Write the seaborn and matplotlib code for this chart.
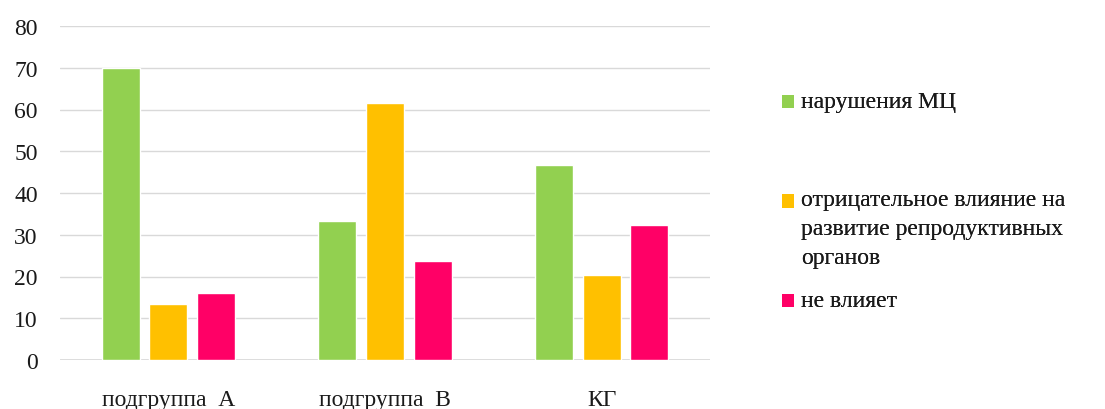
import matplotlib
matplotlib.use("Agg")
import matplotlib.pyplot as plt
from matplotlib.patches import Patch, Rectangle
from matplotlib.legend_handler import HandlerPatch
import seaborn as sns
import pandas as pd

groups = ["подгруппа  А", "подгруппа  В", "КГ"]
series = ["нарушения МЦ",
          "отрицательное влияние на\nразвитие репродуктивных\nорганов",
          "не влияет"]
disorders = [70.0, 33.3, 46.7]
negative = [13.3, 61.5, 20.4]
no_effect = [16.1, 23.6, 32.4]
y_ticks = [0, 10, 20, 30, 40, 50, 60, 70, 80]
colors = ["#92D050", "#FFC000", "#FF0066"]

df = pd.DataFrame({
    "group": groups * 3,
    "series": [series[0]] * 3 + [series[1]] * 3 + [series[2]] * 3,
    "value": disorders + negative + no_effect,
})

sns.set_theme(style="white")
plt.rcParams["font.family"] = ["Liberation Serif", "DejaVu Serif"]

FS = 17
LINESPACING = 1.5
TEXT_COLOR = "#1a1a1a"

fig = plt.figure(figsize=(11.05, 4.10), dpi=100)
ax = fig.add_axes([60 / 1105, 1 - 361 / 410, 650 / 1105, 334 / 410])

sns.barplot(data=df, x="group", y="value", hue="series", order=groups,
            hue_order=series, palette=colors, width=0.66, gap=0.2,
            saturation=1, legend=False, ax=ax)

ax.set_xlim(-0.5, 2.5)
ax.set_ylim(0, 80)
ax.set_yticks(y_ticks)
ax.yaxis.grid(True, color="#D9D9D9", linewidth=1)
ax.set_axisbelow(True)
for side in ["top", "right", "left", "bottom"]:
    ax.spines[side].set_visible(False)
ax.axhline(0, color="#D9D9D9", linewidth=1.2, zorder=0)
ax.set_xlabel("")
ax.set_ylabel("")
ax.tick_params(axis="both", length=0, labelsize=FS, labelcolor=TEXT_COLOR)
ax.tick_params(axis="y", pad=16)
ax.tick_params(axis="x", pad=21)


def first_line_square(legend, orig_handle, xdescent, ydescent, width, height, fontsize):
    # square marker lifted so it sits beside the first line of a wrapped label
    n_lines = orig_handle.get_label().count("\n") + 1
    line_step = LINESPACING * 0.85 * fontsize
    shift = (n_lines - 1) / 2 * line_step - 0.12 * fontsize
    return Rectangle((-xdescent, -ydescent + shift), width, height)


# One legend box per entry, stacked on the right of the plot
anchors = [(782 / 1105, 1 - 92 / 410), (782 / 1105, 1 - 190 / 410), (782 / 1105, 1 - 291 / 410)]
for name, color, anchor in zip(series, colors, anchors):
    handle = Patch(facecolor=color, edgecolor="none", label=name)
    leg = fig.legend(handles=[handle], loc="upper left", bbox_to_anchor=anchor,
                     frameon=False, fontsize=FS, handlelength=0.5, handleheight=0.5,
                     handletextpad=0.3, borderpad=0, borderaxespad=0,
                     labelcolor=TEXT_COLOR,
                     handler_map={Patch: HandlerPatch(patch_func=first_line_square)})
    for t in leg.get_texts():
        t.set_linespacing(LINESPACING)
    fig.add_artist(leg)

fig.savefig("out.png", dpi=100)
